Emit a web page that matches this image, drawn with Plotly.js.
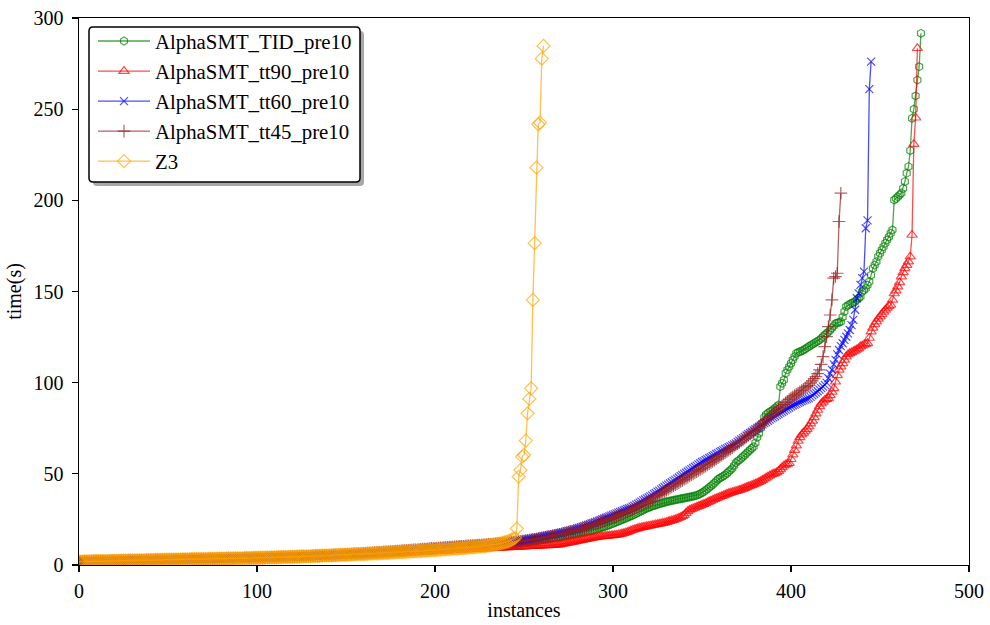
<!DOCTYPE html>
<html>
<head>
<meta charset="utf-8">
<script src="https://cdn.plot.ly/plotly-3.0.1.min.js"></script>
<style>html,body{margin:0;padding:0;background:#fff;}#chart{width:990px;height:625px;}</style>
</head>
<body>
<div id="chart"></div>
<script>
const seriesNames = ["AlphaSMT_TID_pre10","AlphaSMT_tt90_pre10","AlphaSMT_tt60_pre10","AlphaSMT_tt45_pre10","Z3"];

const timeTID = [
1.9,1.9,1.9,2.0,2.0,2.0,2.0,2.0,2.1,2.1,
2.1,2.1,2.1,2.2,2.2,2.2,2.2,2.2,2.3,2.3,
2.3,2.3,2.3,2.4,2.4,2.4,2.4,2.4,2.5,2.5,
2.5,2.5,2.5,2.6,2.6,2.6,2.6,2.6,2.7,2.7,
2.7,2.7,2.7,2.8,2.8,2.8,2.8,2.8,2.9,2.9,
2.9,2.9,2.9,3.0,3.0,3.0,3.0,3.0,3.1,3.1,
3.1,3.1,3.1,3.2,3.2,3.2,3.2,3.2,3.3,3.3,
3.3,3.3,3.3,3.4,3.4,3.4,3.4,3.4,3.5,3.5,
3.5,3.5,3.5,3.6,3.6,3.6,3.6,3.6,3.7,3.7,
3.7,3.7,3.7,3.8,3.8,3.8,3.8,3.8,3.9,3.9,
3.9,3.9,4.0,4.0,4.0,4.1,4.1,4.1,4.2,4.2,
4.2,4.2,4.3,4.3,4.3,4.4,4.4,4.4,4.5,4.5,
4.5,4.5,4.6,4.6,4.6,4.7,4.7,4.7,4.8,4.8,
4.8,4.9,4.9,5.0,5.0,5.0,5.1,5.1,5.2,5.2,
5.2,5.3,5.3,5.4,5.4,5.4,5.5,5.5,5.6,5.6,
5.6,5.7,5.7,5.8,5.8,5.9,5.9,6.0,6.0,6.0,
6.0,6.1,6.1,6.2,6.2,6.3,6.3,6.4,6.4,6.5,
6.5,6.6,6.6,6.7,6.7,6.8,6.8,6.9,6.9,7.0,
7.0,7.1,7.1,7.2,7.3,7.3,7.4,7.4,7.5,7.6,
7.6,7.7,7.7,7.8,7.9,7.9,8.0,8.0,8.1,8.2,
8.2,8.3,8.3,8.4,8.5,8.5,8.6,8.7,8.7,8.8,
8.9,9.0,9.0,9.1,9.2,9.3,9.3,9.4,9.5,9.6,
9.7,9.8,9.8,9.9,10.0,10.1,10.2,10.3,10.4,10.5,
10.6,10.7,10.8,10.9,11.0,11.1,11.2,11.3,11.4,11.5,
11.6,11.7,11.8,11.9,12.0,12.1,12.2,12.3,12.4,12.5,
12.7,12.8,12.9,13.0,13.1,13.3,13.4,13.5,13.6,13.8,
13.9,14.0,14.2,14.3,14.5,14.6,14.8,14.9,15.0,15.2,
15.3,15.5,15.7,15.9,16.1,16.3,16.5,16.7,16.9,17.1,
17.3,17.5,17.7,17.9,18.1,18.3,18.5,18.7,18.9,19.2,
19.5,19.8,20.1,20.4,20.7,21.0,21.3,21.6,22.0,22.4,
22.8,23.2,23.6,24.0,24.4,24.8,25.2,25.6,26.0,26.4,
26.8,27.2,27.7,28.2,28.7,29.2,29.7,30.2,30.7,31.1,
31.5,31.9,32.3,32.6,32.9,33.2,33.5,33.8,34.1,34.4,
34.7,34.9,35.1,35.3,35.5,35.7,35.9,36.1,36.3,36.5,
36.7,36.9,37.1,37.3,37.5,37.7,37.9,38.2,38.6,39.1,
39.6,40.2,40.9,41.7,42.5,43.3,44.1,45.0,46.0,47.0,
47.6,48.2,48.8,49.4,50.3,51.2,52.1,53.0,54.5,56.0,
57.0,57.6,58.5,59.4,60.3,61.3,62.2,63.1,64.0,64.9,
67.0,70.0,72.2,75.0,78.0,81.0,82.5,83.2,84.0,84.5,
85.2,86.0,86.8,87.8,97.8,99.7,101.5,105.2,107.0,108.8,
110.6,112.5,114.3,116.1,116.6,117.0,117.4,117.9,118.5,119.2,
119.8,120.4,121.0,121.6,122.2,122.8,123.4,124.3,125.2,126.2,
127.0,127.9,128.8,130.0,131.2,132.5,132.8,133.1,133.4,136.0,
139.0,141.7,142.5,143.0,143.6,144.0,144.4,145.5,146.3,147.2,
149.9,150.8,151.7,153.5,155.4,159.0,162.7,164.5,166.4,169.2,
171.0,172.8,174.6,176.5,178.3,180.0,182.0,183.8,200.2,201.0,
202.0,203.0,204.0,206.6,210.3,214.9,218.5,227.3,245.0,250.0,
257.3,266.0,273.3,291.6
];

const timeTT90 = [
1.9,1.9,1.9,2.0,2.0,2.0,2.0,2.0,2.1,2.1,
2.1,2.1,2.1,2.2,2.2,2.2,2.2,2.2,2.3,2.3,
2.3,2.3,2.3,2.4,2.4,2.4,2.4,2.4,2.5,2.5,
2.5,2.5,2.5,2.6,2.6,2.6,2.6,2.6,2.7,2.7,
2.7,2.7,2.7,2.8,2.8,2.8,2.8,2.8,2.9,2.9,
2.9,2.9,2.9,3.0,3.0,3.0,3.0,3.0,3.1,3.1,
3.1,3.1,3.1,3.2,3.2,3.2,3.2,3.2,3.3,3.3,
3.3,3.3,3.3,3.4,3.4,3.4,3.4,3.4,3.5,3.5,
3.5,3.5,3.5,3.6,3.6,3.6,3.6,3.6,3.7,3.7,
3.7,3.7,3.7,3.8,3.8,3.8,3.8,3.8,3.9,3.9,
3.9,3.9,4.0,4.0,4.0,4.1,4.1,4.1,4.2,4.2,
4.2,4.2,4.3,4.3,4.3,4.4,4.4,4.4,4.5,4.5,
4.5,4.5,4.6,4.6,4.6,4.7,4.7,4.7,4.8,4.8,
4.8,4.9,4.9,5.0,5.0,5.0,5.1,5.1,5.2,5.2,
5.2,5.3,5.3,5.4,5.4,5.4,5.5,5.5,5.6,5.6,
5.6,5.7,5.7,5.8,5.8,5.9,5.9,6.0,6.0,6.0,
6.0,6.0,6.1,6.1,6.1,6.2,6.2,6.2,6.3,6.3,
6.3,6.4,6.4,6.4,6.5,6.5,6.5,6.6,6.6,6.7,
6.7,6.7,6.8,6.8,6.9,6.9,7.0,7.0,7.0,7.1,
7.1,7.2,7.2,7.3,7.3,7.4,7.4,7.5,7.5,7.6,
7.6,7.7,7.7,7.8,7.8,7.9,7.9,8.0,8.0,8.1,
8.1,8.2,8.2,8.3,8.3,8.4,8.4,8.5,8.5,8.6,
8.6,8.7,8.7,8.8,8.8,8.9,8.9,9.0,9.0,9.1,
9.1,9.2,9.2,9.3,9.3,9.4,9.4,9.5,9.5,9.6,
9.6,9.7,9.7,9.8,9.8,9.9,9.9,10.0,10.0,10.1,
10.1,10.2,10.2,10.3,10.3,10.4,10.4,10.5,10.5,10.6,
10.6,10.7,10.7,10.8,10.8,10.9,10.9,11.0,11.0,11.1,
11.2,11.4,11.6,11.8,12.0,12.2,12.4,12.6,12.8,13.0,
13.2,13.4,13.6,13.8,14.0,14.2,14.4,14.6,14.8,15.0,
15.2,15.3,15.5,15.6,15.7,15.8,15.9,16.0,16.1,16.2,
16.3,16.4,16.5,16.7,16.9,17.1,17.4,17.7,18.0,18.4,
18.8,19.2,19.5,19.8,20.1,20.4,20.6,20.8,21.0,21.2,
21.4,21.6,21.8,22.0,22.2,22.4,22.6,22.8,23.0,23.2,
23.5,23.8,24.1,24.4,24.7,25.0,25.4,25.8,26.2,26.8,
27.4,28.5,29.5,30.2,30.6,31.0,31.4,31.8,32.2,32.6,
33.0,33.4,33.8,34.3,34.8,35.2,35.7,36.1,36.5,36.9,
37.3,37.7,38.1,38.5,38.9,39.3,39.6,39.9,40.2,40.5,
40.8,41.1,41.4,41.8,42.2,42.6,43.0,43.4,43.8,44.2,
44.6,45.0,45.5,46.0,46.6,47.2,47.8,48.4,49.0,49.5,
50.0,50.3,50.8,51.5,52.5,53.5,54.5,55.0,55.5,55.8,
58.0,60.5,63.0,65.5,68.0,70.0,71.5,72.5,73.5,74.5,
75.9,77.5,79.0,81.0,83.0,85.0,87.0,88.5,89.5,90.5,
91.0,91.4,93.0,95.0,96.9,100.5,104.0,107.0,108.8,110.6,
112.5,114.3,115.5,116.1,116.6,117.1,117.6,118.2,118.8,119.8,
120.3,120.8,121.2,121.6,124.5,128.0,130.0,132.0,133.5,135.0,
136.2,137.5,138.8,139.9,141.0,142.0,142.6,145.4,148.9,150.5,
152.7,155.0,158.2,160.5,162.7,164.5,166.4,169.1,181.0,230.8,
245.3,283.4
];

const timeTT60 = [
1.9,1.9,1.9,2.0,2.0,2.0,2.0,2.0,2.1,2.1,
2.1,2.1,2.1,2.2,2.2,2.2,2.2,2.2,2.3,2.3,
2.3,2.3,2.3,2.4,2.4,2.4,2.4,2.4,2.5,2.5,
2.5,2.5,2.5,2.6,2.6,2.6,2.6,2.6,2.7,2.7,
2.7,2.7,2.7,2.8,2.8,2.8,2.8,2.8,2.9,2.9,
2.9,2.9,2.9,3.0,3.0,3.0,3.0,3.0,3.1,3.1,
3.1,3.1,3.1,3.2,3.2,3.2,3.2,3.2,3.3,3.3,
3.3,3.3,3.3,3.4,3.4,3.4,3.4,3.4,3.5,3.5,
3.5,3.5,3.5,3.6,3.6,3.6,3.6,3.6,3.7,3.7,
3.7,3.7,3.7,3.8,3.8,3.8,3.8,3.8,3.9,3.9,
3.9,3.9,4.0,4.0,4.0,4.1,4.1,4.1,4.2,4.2,
4.2,4.2,4.3,4.3,4.3,4.4,4.4,4.4,4.5,4.5,
4.5,4.5,4.6,4.6,4.6,4.7,4.7,4.7,4.8,4.8,
4.8,4.9,4.9,5.0,5.0,5.0,5.1,5.1,5.2,5.2,
5.2,5.3,5.4,5.4,5.5,5.5,5.6,5.7,5.7,5.8,
5.9,5.9,6.0,6.1,6.1,6.2,6.3,6.3,6.4,6.5,
6.6,6.6,6.7,6.8,6.9,6.9,7.0,7.1,7.2,7.2,
7.3,7.4,7.5,7.5,7.6,7.7,7.8,7.8,7.9,8.0,
8.0,8.1,8.2,8.3,8.4,8.4,8.5,8.6,8.7,8.7,
8.8,8.9,9.0,9.1,9.2,9.2,9.3,9.4,9.5,9.5,
9.6,9.7,9.8,9.8,9.9,10.0,10.1,10.1,10.2,10.3,
10.3,10.4,10.5,10.6,10.6,10.7,10.8,10.8,10.9,11.0,
11.0,11.1,11.2,11.3,11.3,11.4,11.5,11.6,11.6,11.7,
11.8,11.9,11.9,12.0,12.1,12.2,12.3,12.3,12.4,12.5,
12.6,12.7,12.8,12.9,13.0,13.1,13.2,13.3,13.4,13.6,
13.8,13.9,14.1,14.3,14.4,14.6,14.8,15.0,15.1,15.3,
15.5,15.7,15.9,16.1,16.3,16.5,16.7,16.9,17.1,17.3,
17.5,17.7,17.9,18.2,18.4,18.7,18.9,19.2,19.5,19.7,
20.0,20.3,20.6,21.0,21.3,21.7,22.0,22.4,22.8,23.1,
23.5,23.9,24.3,24.7,25.1,25.5,25.9,26.3,26.7,27.1,
27.5,27.9,28.3,28.7,29.1,29.5,29.9,30.3,30.7,31.1,
31.5,32.0,32.5,33.1,33.7,34.2,34.8,35.4,35.9,36.5,
37.0,37.6,38.2,38.9,39.5,40.2,40.8,41.5,42.1,42.8,
43.5,44.1,44.8,45.4,46.1,46.7,47.4,48.0,48.7,49.3,
50.0,50.6,51.3,51.9,52.6,53.2,53.9,54.5,55.2,55.8,
56.5,57.0,57.6,58.1,58.7,59.2,59.8,60.3,60.9,61.4,
62.0,62.5,63.0,63.6,64.1,64.6,65.1,65.6,66.2,66.7,
67.5,68.2,68.9,69.6,70.3,71.0,71.7,72.4,73.1,73.8,
74.5,75.2,75.8,76.5,77.1,77.8,78.4,79.1,79.7,80.4,
81.0,81.6,82.2,82.8,83.4,84.0,84.6,85.2,85.8,86.4,
87.0,87.5,88.0,88.4,88.9,89.4,89.9,90.3,90.7,91.1,
91.5,92.2,93.0,93.8,94.5,95.3,96.2,97.0,97.8,98.8,
100.0,102.4,105.0,107.0,110.0,112.5,115.5,117.9,120.0,121.6,
123.5,125.2,127.0,128.9,131.6,134.4,140.0,146.3,149.0,153.6,
157.3,160.9,184.7,189.0,261.0,276.1
];

const timeTT45 = [
1.9,1.9,1.9,2.0,2.0,2.0,2.0,2.0,2.1,2.1,
2.1,2.1,2.1,2.2,2.2,2.2,2.2,2.2,2.3,2.3,
2.3,2.3,2.3,2.4,2.4,2.4,2.4,2.4,2.5,2.5,
2.5,2.5,2.5,2.6,2.6,2.6,2.6,2.6,2.7,2.7,
2.7,2.7,2.7,2.8,2.8,2.8,2.8,2.8,2.9,2.9,
2.9,2.9,2.9,3.0,3.0,3.0,3.0,3.0,3.1,3.1,
3.1,3.1,3.1,3.2,3.2,3.2,3.2,3.2,3.3,3.3,
3.3,3.3,3.3,3.4,3.4,3.4,3.4,3.4,3.5,3.5,
3.5,3.5,3.5,3.6,3.6,3.6,3.6,3.6,3.7,3.7,
3.7,3.7,3.7,3.8,3.8,3.8,3.8,3.8,3.9,3.9,
3.9,3.9,4.0,4.0,4.0,4.1,4.1,4.1,4.2,4.2,
4.2,4.2,4.3,4.3,4.3,4.4,4.4,4.4,4.5,4.5,
4.5,4.5,4.6,4.6,4.6,4.7,4.7,4.7,4.8,4.8,
4.8,4.9,4.9,5.0,5.0,5.0,5.1,5.1,5.2,5.2,
5.2,5.3,5.3,5.4,5.4,5.5,5.5,5.6,5.6,5.7,
5.8,5.8,5.9,5.9,6.0,6.1,6.1,6.2,6.2,6.3,
6.4,6.4,6.5,6.6,6.6,6.7,6.8,6.8,6.9,7.0,
7.0,7.1,7.2,7.2,7.3,7.4,7.4,7.5,7.6,7.6,
7.7,7.8,7.9,7.9,8.0,8.1,8.2,8.2,8.3,8.4,
8.4,8.5,8.6,8.7,8.8,8.8,8.9,9.0,9.1,9.1,
9.2,9.3,9.3,9.4,9.5,9.6,9.6,9.7,9.8,9.8,
9.9,10.0,10.1,10.1,10.2,10.3,10.3,10.4,10.5,10.5,
10.6,10.7,10.7,10.8,10.9,10.9,11.0,11.1,11.1,11.2,
11.3,11.4,11.4,11.5,11.6,11.7,11.8,11.8,11.9,12.0,
12.1,12.2,12.3,12.4,12.5,12.6,12.7,12.8,12.9,13.1,
13.2,13.4,13.5,13.7,13.8,14.0,14.1,14.3,14.5,14.6,
14.8,15.0,15.2,15.4,15.6,15.8,16.0,16.2,16.4,16.6,
16.8,17.0,17.2,17.5,17.7,17.9,18.2,18.4,18.7,18.9,
19.2,19.5,19.8,20.1,20.5,20.8,21.1,21.5,21.8,22.2,
22.5,22.8,23.2,23.5,23.9,24.2,24.6,24.9,25.3,25.6,
26.0,26.4,26.8,27.2,27.6,28.0,28.4,28.8,29.2,29.6,
30.0,30.5,31.0,31.5,32.0,32.5,33.0,33.5,34.0,34.5,
35.0,35.6,36.2,36.8,37.4,38.0,38.6,39.2,39.8,40.4,
41.0,41.6,42.2,42.8,43.4,44.0,44.6,45.2,45.8,46.4,
47.0,47.6,48.2,48.8,49.4,50.0,50.6,51.2,51.8,52.4,
53.0,53.6,54.2,54.9,55.5,56.2,56.8,57.5,58.1,58.8,
59.5,60.2,60.9,61.6,62.3,63.0,63.7,64.4,65.1,65.8,
66.5,67.2,68.0,68.7,69.5,70.2,71.0,71.7,72.5,73.2,
74.0,74.9,75.8,76.7,77.6,78.5,79.4,80.3,81.2,82.1,
83.0,83.9,84.7,85.6,86.4,87.3,88.1,89.0,89.8,90.7,
91.5,92.2,92.9,93.6,94.3,95.0,95.7,96.4,97.1,97.8,
98.5,99.7,101.0,102.2,103.3,105.0,107.0,110.0,114.3,119.8,
125.2,130.7,137.1,145.4,157.3,158.2,160.0,188.4,203.9
];

const timeZ3 = [
1.9,1.9,1.9,2.0,2.0,2.0,2.0,2.0,2.1,2.1,
2.1,2.1,2.1,2.2,2.2,2.2,2.2,2.2,2.3,2.3,
2.3,2.3,2.3,2.4,2.4,2.4,2.4,2.4,2.5,2.5,
2.5,2.5,2.5,2.6,2.6,2.6,2.6,2.6,2.7,2.7,
2.7,2.7,2.7,2.8,2.8,2.8,2.8,2.8,2.9,2.9,
2.9,2.9,2.9,3.0,3.0,3.0,3.0,3.0,3.1,3.1,
3.1,3.1,3.1,3.2,3.2,3.2,3.2,3.2,3.3,3.3,
3.3,3.3,3.3,3.4,3.4,3.4,3.4,3.4,3.5,3.5,
3.5,3.5,3.5,3.6,3.6,3.6,3.6,3.6,3.7,3.7,
3.7,3.7,3.7,3.8,3.8,3.8,3.8,3.8,3.9,3.9,
3.9,3.9,4.0,4.0,4.0,4.1,4.1,4.1,4.2,4.2,
4.2,4.2,4.3,4.3,4.3,4.4,4.4,4.4,4.5,4.5,
4.5,4.5,4.6,4.6,4.6,4.7,4.7,4.7,4.8,4.8,
4.8,4.9,4.9,5.0,5.0,5.0,5.1,5.1,5.2,5.2,
5.2,5.3,5.3,5.4,5.4,5.4,5.5,5.5,5.6,5.6,
5.6,5.7,5.7,5.8,5.8,5.9,5.9,6.0,6.0,6.0,
6.0,6.1,6.1,6.2,6.2,6.3,6.3,6.4,6.4,6.5,
6.5,6.6,6.6,6.7,6.7,6.8,6.8,6.9,6.9,7.0,
7.0,7.1,7.1,7.2,7.3,7.3,7.4,7.4,7.5,7.6,
7.6,7.7,7.7,7.8,7.9,7.9,8.0,8.0,8.1,8.2,
8.2,8.3,8.3,8.4,8.5,8.5,8.6,8.7,8.7,8.8,
8.9,9.0,9.0,9.1,9.2,9.3,9.3,9.4,9.5,9.6,
9.7,9.8,9.8,9.9,10.0,10.1,10.2,10.3,10.4,10.5,
10.7,10.8,11.0,11.1,11.3,11.5,11.7,11.9,12.1,12.4,
12.7,13.0,13.4,13.8,14.3,14.8,20.0,48.4,52.1,59.4,
60.3,68.2,83.2,91.1,96.9,145.4,176.5,217.9,241.7,242.6,
277.7,284.7
];

const xTicks = [0, 100, 200, 300, 400, 500];
const yTicks = [0, 50, 100, 150, 200, 250, 300];

const colors = ["rgba(0,128,0,0.7)","rgba(255,0,0,0.7)","rgba(0,0,255,0.7)","rgba(150,30,30,0.7)","rgba(255,165,0,0.7)"];
const symbols = ["hexagon-open","triangle-up-open","x-thin-open","cross-thin-open","diamond-open"];
const sizes = [8, 9, 8, 9, 10];
const allY = [timeTID, timeTT90, timeTT60, timeTT45, timeZ3];

const traces = allY.map((ys, k) => ({
  type: "scatter",
  mode: "lines+markers",
  name: seriesNames[k],
  legendgroup: "g" + k,
  x: ys.map((_, i) => i),
  y: ys,
  line: {color: colors[k], width: 1.3},
  marker: {symbol: symbols[k], size: sizes[k], color: colors[k], line: {color: colors[k], width: 1.2}}
}));

const F = "Liberation Serif";
const W = 990, H = 625, ML = 79, MR = 21, MT = 18, MB = 60;
const PW = W - ML - MR, PH = H - MT - MB;
const px2x = p => (p - ML) / PW;
const px2y = p => 1 - (p - MT) / PH;

// legend frame (pixel box 89..360 x 27..182) with rounded corners and a drop shadow
function roundRect(x0, y0, x1, y1, r) {
  const a = px2x(x0), b = px2x(x1), c = px2y(y0), d = px2y(y1);
  const rx = r / PW, ry = r / PH;
  return `M${a + rx},${c} L${b - rx},${c} Q${b},${c} ${b},${c - ry} L${b},${d + ry} Q${b},${d} ${b - rx},${d} L${a + rx},${d} Q${a},${d} ${a},${d + ry} L${a},${c - ry} Q${a},${c} ${a + rx},${c} Z`;
}

const layout = {
  width: W, height: H,
  margin: {l: ML, r: MR, t: MT, b: MB},
  paper_bgcolor: "#fff", plot_bgcolor: "#fff",
  font: {family: F, size: 20, color: "#000"},
  showlegend: true,
  xaxis: {
    range: [0, 500], tickvals: xTicks, ticktext: xTicks.map(String),
    showgrid: false, zeroline: false, showline: true, mirror: true,
    linecolor: "#000", linewidth: 1.4, ticks: "outside", ticklen: 6, tickwidth: 1.3, tickcolor: "#000",
    tickfont: {family: F, size: 20}, ticklabelstandoff: 2,
    title: {text: "instances", font: {family: F, size: 20}, standoff: 1}
  },
  yaxis: {
    range: [0, 300], tickvals: yTicks, ticktext: yTicks.map(String),
    showgrid: false, zeroline: false, showline: true, mirror: true,
    linecolor: "#000", linewidth: 1.4, ticks: "outside", ticklen: 6, tickwidth: 1.3, tickcolor: "#000",
    tickfont: {family: F, size: 20}, ticklabelstandoff: 4,
    title: {text: "time(s)", font: {family: F, size: 20}, standoff: 6}
  },
  legend: {
    x: px2x(93), y: px2y(21), xanchor: "left", yanchor: "top",
    bgcolor: "rgba(0,0,0,0)", borderwidth: 0,
    font: {family: F, size: 20.8}, tracegroupgap: 0, itemwidth: 52
  },
  shapes: [
    {type: "path", xref: "paper", yref: "paper", path: roundRect(93, 31, 364, 186, 4),
     fillcolor: "rgba(110,110,110,0.6)", line: {width: 0}, layer: "above"},
    {type: "path", xref: "paper", yref: "paper", path: roundRect(89, 27, 360, 182, 4),
     fillcolor: "#fff", line: {color: "#000", width: 1.5}, layer: "above"}
  ]
};

Plotly.newPlot("chart", traces, layout, {displayModeBar: false, staticPlot: true});
</script>
</body>
</html>
